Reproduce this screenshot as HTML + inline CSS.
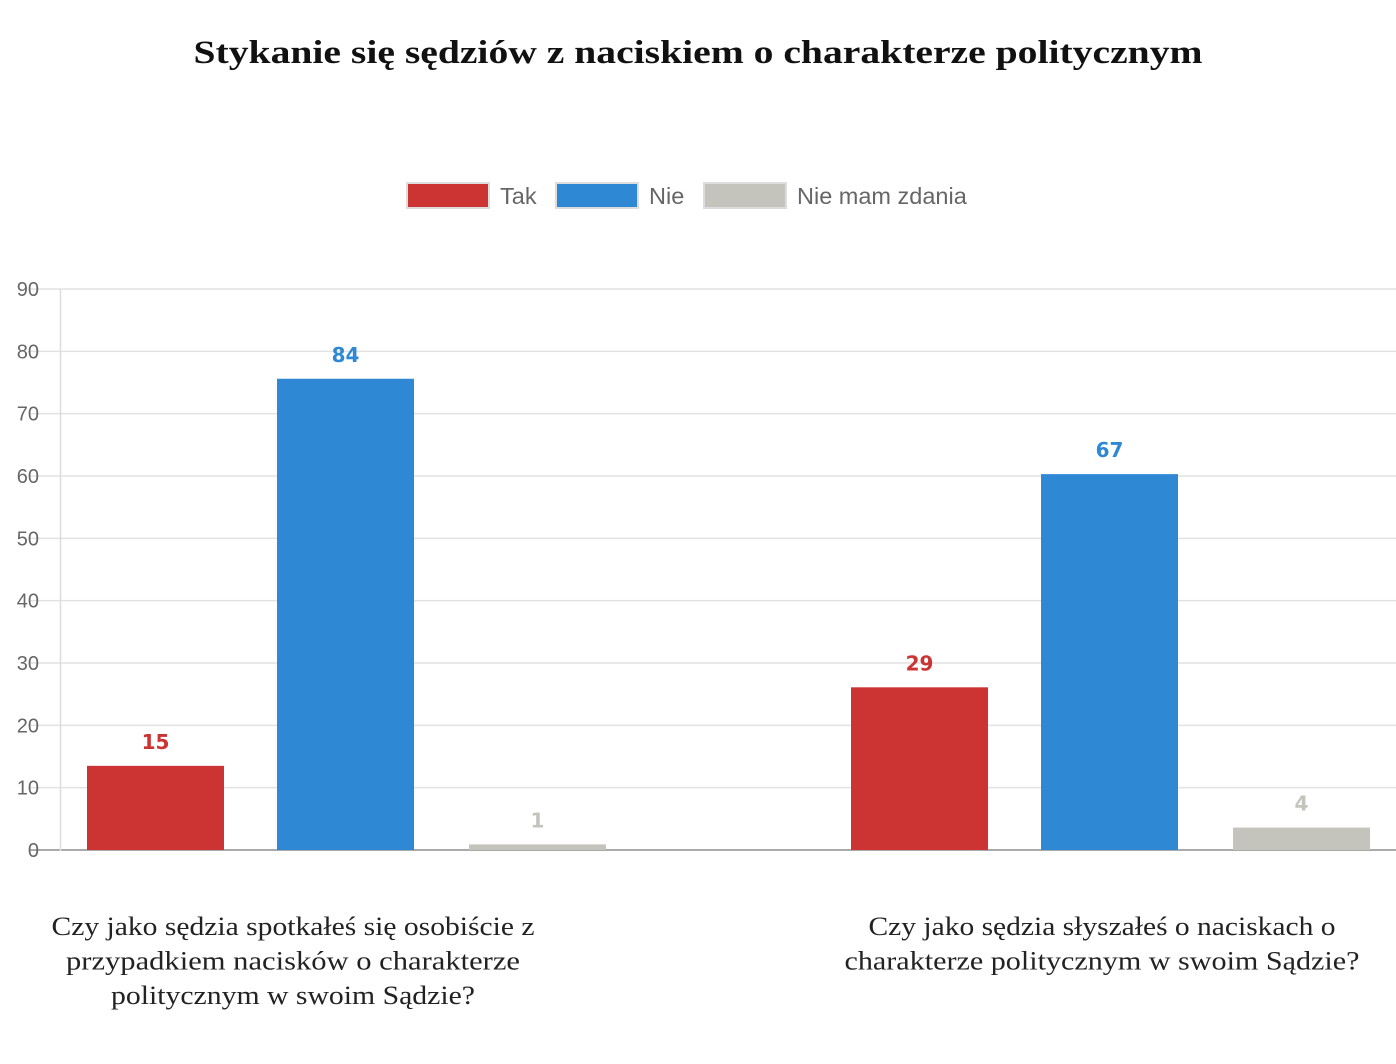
<!DOCTYPE html>
<html><head><meta charset="utf-8"><style>
body{margin:0;background:#fff;width:1396px;height:1064px;overflow:hidden}
svg{display:block}
</style></head><body>
<svg id="chart" width="1396" height="1064" xmlns="http://www.w3.org/2000/svg">
<text x="698" y="63" text-anchor="middle" textLength="1009" lengthAdjust="spacingAndGlyphs" font-family="Liberation Serif, serif" font-weight="bold" font-size="33" fill="#111">Stykanie się sędziów z naciskiem o charakterze politycznym</text>
<g id="legend"></g>
<g id="grid"></g>
<g id="bars"></g>
<g id="cats"></g>
</svg>
<script>
const categories=[["Czy jako sędzia spotkałeś się osobiście z","przypadkiem nacisków o charakterze","politycznym w swoim Sądzie?"],["Czy jako sędzia słyszałeś o naciskach o","charakterze politycznym w swoim Sądzie?"]];
const seriesNames=["Tak","Nie","Nie mam zdania"];
const takValues=[13.5,26.1];
const nieValues=[75.6,60.3];
const nmzValues=[0.9,3.6];
const takLabels=["15","29"];
const nieLabels=["84","67"];
const nmzLabels=["1","4"];
const yTicks=[0,10,20,30,40,50,60,70,80,90];

const colors=["#cc3333","#2e88d4","#c4c4bc"];
const NS="http://www.w3.org/2000/svg";
const x0=60,y0=850,y1=289,yMax=90;
const y=v=>y0-(v/yMax)*(y0-y1);
const groupStep=764;
const catCenters=[293,1102];
const catLineWidths=[[483,454,364],[467,515]];
function mk(tag,attrs,parent,text){const e=document.createElementNS(NS,tag);for(const k in attrs)e.setAttribute(k,attrs[k]);if(text!==undefined)e.textContent=text;document.getElementById(parent).appendChild(e);return e;}

yTicks.forEach(t=>{
  const l=mk('line',{x1:30,x2:1396,y1:y(t),y2:y(t),stroke:t===0?'#aaa':'#e2e2e2','stroke-width':t===0?2:1.5},'grid');
  
  
  const tx=mk('text',{x:39,y:y(t)+7,'text-anchor':'end','font-family':'Liberation Sans, sans-serif','font-size':20,fill:'#666'},'grid',String(t));
  
  
});
const ax=mk('line',{x1:60.5,x2:60.5,y1:289,y2:851,stroke:'#ddd','stroke-width':1.5},'grid');



const legX=[406,555,703];
seriesNames.forEach((n,i)=>{
  const r=mk('rect',{x:legX[i]+1,y:183,width:82,height:25,fill:colors[i],stroke:'#ddd','stroke-width':2},'legend');
  
  
  const t=mk('text',{x:legX[i]+94,y:204,'font-family':'Liberation Sans, sans-serif','font-size':23.5,fill:'#666'},'legend',n);
  
  
});

const allVals=[takValues,nieValues,nmzValues];
const allLabels=[takLabels,nieLabels,nmzLabels];
const offsets=[27,217,409],bw=137;
categories.forEach((c,ci)=>{
  const cx=x0+ci*groupStep;
  allVals.forEach((vals,si)=>{
    const bx=cx+offsets[si];
    const b=mk('rect',{x:bx,y:y(vals[ci]),width:bw,height:y0-y(vals[ci]),fill:colors[si]},'bars');
    
    
    const lt=mk('text',{x:bx+bw/2,y:y(vals[ci])-17,'text-anchor':'middle','font-family':'DejaVu Sans, sans-serif','font-weight':'bold','font-size':20,fill:colors[si]},'bars',allLabels[si][ci]);
    
    
  });
  c.forEach((line,li)=>{
    const t=mk('text',{x:catCenters[ci],y:935+li*34.5,'text-anchor':'middle',textLength:catLineWidths[ci][li],lengthAdjust:'spacingAndGlyphs','font-family':'Liberation Serif, serif','font-size':26,fill:'#222'},'cats',line);
    
    
  });
});
</script>
</body></html>
